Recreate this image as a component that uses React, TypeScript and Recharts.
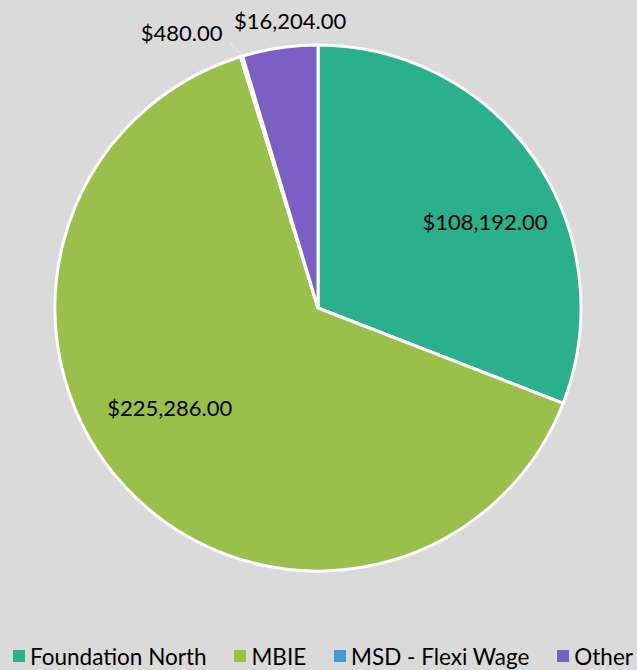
import { PieChart, Pie, Cell } from 'recharts';

const categories = ['Foundation North', 'MBIE', 'MSD - Flexi Wage', 'Other'];
const amounts = [108192, 225286, 480, 16204];
const colors = ['#2bb08e', '#9bbf4b', '#3f9bd0', '#7b5fc4'];
// label placement nudges (degrees / radius factor), like Excel's best-fit
const labelShift = [-7, -9, 9.4, -2.8];
const labelRadius = [0.715, 0.68, 1.17, 1.1];

const data = categories.map((name, i) => ({ name, value: amounts[i] }));

const RAD = Math.PI / 180;
const fmt = (v: number) =>
  '$' + v.toLocaleString('en-US', { minimumFractionDigits: 2, maximumFractionDigits: 2 });

const renderLabel = (props: any) => {
  const { cx, cy, midAngle, outerRadius, index, value } = props;
  const a = (midAngle + labelShift[index]) * RAD;
  const r = outerRadius * labelRadius[index];
  const x = cx + r * Math.cos(a);
  const y = cy - r * Math.sin(a);
  let leader = null;
  if (index === 2) {
    const m = midAngle * RAD;
    const x1 = cx + (outerRadius + 2) * Math.cos(m);
    const y1 = cy - (outerRadius + 2) * Math.sin(m);
    leader = <line x1={x1} y1={y1} x2={x + 48} y2={y + 10} stroke="#f2f2f2" strokeWidth={1} />;
  }
  return (
    <g>
      {leader}
      <text
        x={x}
        y={y}
        textAnchor="middle"
        dominantBaseline="central"
        fill="#000"
        fontSize={22}
        fontFamily="Lato, 'Open Sans', sans-serif"
      >
        {fmt(value)}
      </text>
    </g>
  );
};

export default function App() {
  return (
    <div
      style={{
        position: 'absolute',
        left: 0,
        top: 0,
        width: 637,
        height: 670,
        background: '#dadada',
        overflow: 'hidden',
        fontFamily: "Lato, 'Open Sans', sans-serif"
      }}
    >
      <PieChart width={637} height={640}>
        <Pie
          data={data}
          dataKey="value"
          nameKey="name"
          cx={313}
          cy={303}
          outerRadius={263}
          startAngle={90}
          endAngle={-270}
          stroke="#ffffff"
          strokeWidth={3}
          label={renderLabel}
          labelLine={false}
          isAnimationActive={false}
        >
          {data.map((d, i) => (
            <Cell key={d.name} fill={colors[i]} />
          ))}
        </Pie>
      </PieChart>
      <div
        style={{
          position: 'absolute',
          left: 13,
          right: 4,
          top: 643,
          height: 26,
          display: 'flex',
          justifyContent: 'space-between',
          alignItems: 'center',
          fontSize: 22.5,
          color: '#000'
        }}
      >
        {categories.map((c, i) => (
          <div key={c} style={{ display: 'flex', alignItems: 'center' }}>
            <span style={{ width: 12, height: 12, background: colors[i], marginRight: 5, display: 'inline-block' }} />
            <span>{c}</span>
          </div>
        ))}
      </div>
    </div>
  );
}
